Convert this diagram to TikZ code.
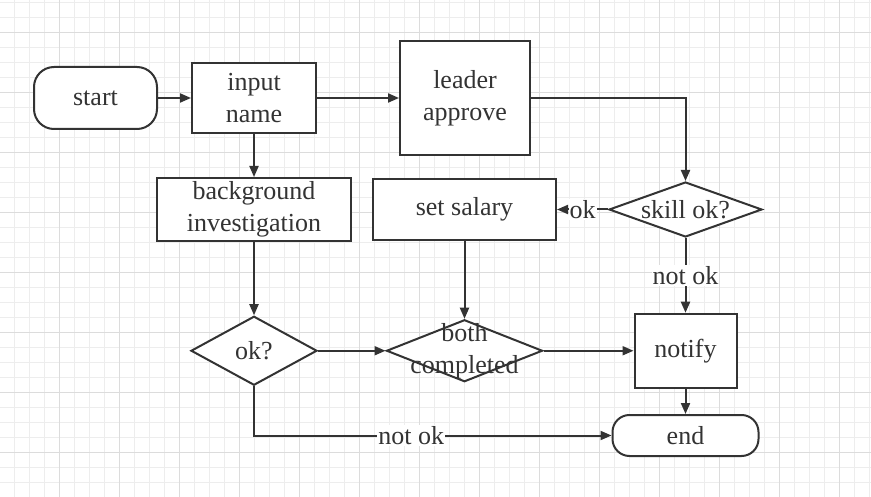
\documentclass[tikz,border=0pt]{standalone}
\usepackage{fontspec}
\setmainfont{Liberation Serif}
\usetikzlibrary{shapes.geometric, arrows.meta, calc, positioning}
\definecolor{gridminor}{HTML}{EDEDED}
\definecolor{gridmajor}{HTML}{DCDCDC}
\definecolor{ink}{HTML}{333333}

\begin{document}
\begin{tikzpicture}[
    x=1pt, y=-1pt,
    font=\fontsize{26}{32}\selectfont, text=ink,
    boxnode/.style={draw=ink, line width=2pt, fill=white, align=center, inner sep=0pt},
    termnode/.style={boxnode, rounded corners=#1},
    decnode/.style={draw=ink, line width=2pt, fill=white, diamond, inner sep=0pt},
    flow/.style={-{Triangle[length=11pt,width=9pt]}, draw=ink, line width=2pt},
    flowlabel/.style={fill=white, inner sep=1pt}
]
\useasboundingbox (0,0) rectangle (871,497);
\fill[white] (0,0) rectangle (871,497);
\foreach \k in {0,...,57} \draw[gridminor, line width=0.8pt] ({14.5+15*\k},0) -- ++(0,497);
\foreach \k in {0,...,33} \draw[gridminor, line width=0.8pt] (0,{2+15*\k}) -- ++(871,0);
\foreach \k in {0,...,13} \draw[gridmajor, line width=0.8pt] ({59.5+60*\k},0) -- ++(0,497);
\foreach \k in {0,...,7} \draw[gridmajor, line width=0.8pt] (0,{32+60*\k}) -- ++(871,0);

\node[termnode=20pt, minimum width=123pt, minimum height=62pt] (start) at (95.5,98) {start};
\node[boxnode, minimum width=124pt, minimum height=70pt] (input) at (254,98) {input\\name};
\node[boxnode, minimum width=130pt, minimum height=114pt] (leader) at (465,98) {leader\\approve};
\node[boxnode, minimum width=194pt, minimum height=63pt] (background) at (254,209.5) {background\\investigation};
\node[boxnode, minimum width=183pt, minimum height=61pt] (salary) at (464.5,209.5) {set salary};
\node[decnode, minimum width=153pt, minimum height=55pt, label=center:skill ok?] (skill) at (685.5,209.5) {};
\node[decnode, minimum width=126pt, minimum height=69pt, label=center:ok?] (check) at (254,350.75) {};
\node[decnode, minimum width=156pt, minimum height=62pt, label={[align=center]center:both\\completed}] (both) at (464.5,350.75) {};
\node[boxnode, minimum width=102pt, minimum height=74pt] (notify) at (685.5,350.75) {notify};
\node[termnode=17pt, minimum width=146pt, minimum height=41pt] (end) at (685.5,435.5) {end};

\draw[flow] (start) -- (input);
\draw[flow] (input) -- (leader);
\draw[flow] (input) -- (background);
\draw[flow] (leader.east) -| (skill.north);
\draw[flow] (skill) -- node[flowlabel] {ok} (salary);
\draw[flow] (skill) -- node[flowlabel] {not ok} (notify);
\draw[flow] (background) -- (check);
\draw[flow] (salary) -- (both);
\draw[flow] (check) -- (both);
\draw[flow] (both) -- (notify);
\draw[flow] (notify) -- (end);
\draw[flow] (check.south) |- node[flowlabel, pos=0.72] {not ok} (end.west);
\end{tikzpicture}
\end{document}
